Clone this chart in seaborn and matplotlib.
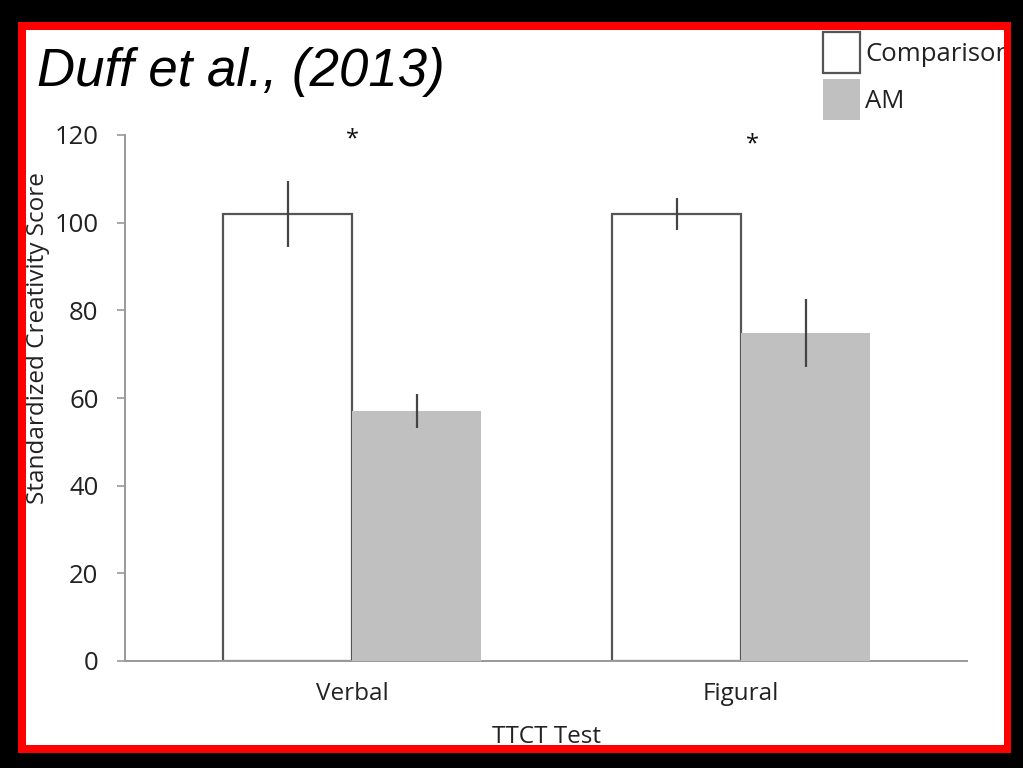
import matplotlib
matplotlib.use("Agg")
import matplotlib.pyplot as plt
from matplotlib.patches import Rectangle, Patch
import seaborn as sns
import pandas as pd

# ---- data ----
tests = ["Verbal", "Figural"]
groups = ["Comparison", "AM"]
comparison = [102.0, 102.0]
am = [57.0, 74.8]
comparison_err = [7.5, 3.7]
am_err = [3.8, 7.8]
yticks = [0, 20, 40, 60, 80, 100, 120]
title = "Duff et al., (2013)"
xlabel = "TTCT Test"
ylabel = "Standardized Creativity Score"

df = pd.DataFrame({
    "test": tests * 2,
    "group": [groups[0]] * 2 + [groups[1]] * 2,
    "score": comparison + am,
    "err": comparison_err + am_err,
})

sns.set_theme(style="white")
plt.rcParams["font.family"] = ["Open Sans", "DejaVu Sans"]

W, H = 1023, 768
fig = plt.figure(figsize=(W / 100, H / 100), dpi=100)
fig.patch.set_facecolor("white")

def px(x0, y0, x1, y1):
    return [x0 / W, 1 - y1 / H, (x1 - x0) / W, (y1 - y0) / H]

ax = fig.add_axes(px(125, 135, 967, 661))

palette = {"Comparison": "white", "AM": "#c0c0c0"}
sns.barplot(data=df, x="test", y="score", hue="group", order=tests,
            hue_order=groups, palette=palette, width=0.663, errorbar=None,
            ax=ax, legend=False, saturation=1)

edge = "#555555"
for bar, g in zip(ax.patches, [groups[0]] * 2 + [groups[1]] * 2):
    if g == "Comparison":
        bar.set_edgecolor(edge)
        bar.set_linewidth(1.6)
        bar.set_zorder(2)
    else:
        bar.set_edgecolor("none")
        bar.set_zorder(3)

# error bars at bar centers
for bar, (_, row) in zip(ax.patches, df.iterrows()):
    cx = bar.get_x() + bar.get_width() / 2
    ax.errorbar(cx, row["score"], yerr=row["err"], fmt="none",
                ecolor="#444444", elinewidth=1.6, capsize=0, zorder=5)

txt = "#222222"
ax.set_ylim(0, 120)
ax.set_xlim(-0.584, 1.581)
ax.set_yticks(yticks)
ax.set_yticklabels([str(v) for v in yticks], fontsize=18.5, color=txt)
ax.tick_params(axis="y", length=6, width=1.2, color="#999999", pad=13,
               left=True, direction="out")
ax.tick_params(axis="x", length=0, pad=15, labelsize=17.5, labelcolor=txt)
ax.set_xlabel(xlabel, fontsize=17.5, color=txt, labelpad=14)
ax.set_ylabel("")
for s in ["top", "right"]:
    ax.spines[s].set_visible(False)
for s in ["left", "bottom"]:
    ax.spines[s].set_color("#999999")
    ax.spines[s].set_linewidth(1.4)

fig.text(38 / W, 1 - 338 / H, ylabel, rotation=90, ha="center", va="center",
         fontsize=17.5, color=txt)

# significance asterisks
ax.text(0, 118.9, "*", ha="center", va="center", fontsize=17, color="#111111")
ax.text(1.03, 117.9, "*", ha="center", va="center", fontsize=17, color="#111111")

# legend
handles = [Patch(facecolor="white", edgecolor=edge, linewidth=1.6),
           Patch(facecolor="#c0c0c0", edgecolor="none")]
fig.legend(handles, groups, loc="upper left",
           bbox_to_anchor=(823 / W, 1 - 32 / H), frameon=False,
           fontsize=18.5, handlelength=1.44, handleheight=2.07,
           handletextpad=0.2, labelspacing=0.25, borderpad=0,
           borderaxespad=0, labelcolor=txt)

# title
fig.text(37 / W, 1 - 86 / H, title, fontsize=38, style="italic",
         family=["Liberation Sans", "DejaVu Sans"], color="black",
         ha="left", va="baseline")

# frame: black outer, red inner
def frame(x0, y0, x1, y1, color, z):
    for r in [(0, 0, W, y0), (0, y1, W, H), (0, 0, x0, H), (x1, 0, W, H)]:
        fig.add_artist(Rectangle((r[0] / W, 1 - r[3] / H),
                                 (r[2] - r[0]) / W, (r[3] - r[1]) / H,
                                 transform=fig.transFigure, facecolor=color,
                                 edgecolor="none", zorder=z))

frame(26, 30, 1004, 745, "#ff0000", 20)
frame(18, 22, 1011, 753, "black", 21)

fig.savefig("out.png", dpi=100, facecolor=fig.get_facecolor())
